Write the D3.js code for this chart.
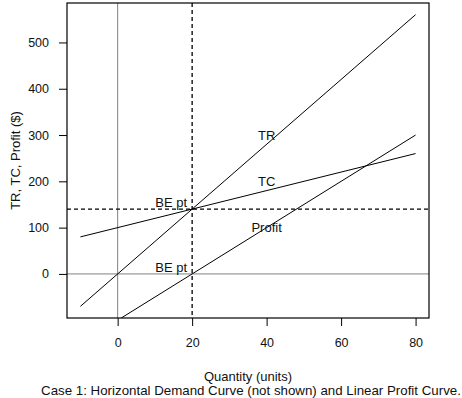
<!DOCTYPE html>
<html>
<head>
<meta charset="utf-8">
<script src="https://cdn.jsdelivr.net/npm/d3@7"></script>
<style>
  body { margin: 0; background: #fff; }
  svg text { font-family: "Liberation Sans", Arial, sans-serif; fill: #111; }
</style>
</head>
<body>
<svg id="chart" width="462" height="398"></svg>
<script>
/* DATA */
const quantity = [-10, 80];
const totalRevenue = [-70, 560];
const totalCost = [80, 260];
const profit = [-150, 300];

const xTicks = [0, 20, 40, 60, 80];
const yTicks = [0, 100, 200, 300, 400, 500];

const breakEven = { q: 20, tr: 140, profit: 0 };

const curveLabels = [
  { text: "TR", q: 40, v: 300 },
  { text: "TC", q: 40, v: 200 },
  { text: "Profit", q: 40, v: 100 }
];

/* LAYOUT */
const margin = { left: 67, top: 3, right: 33, bottom: 80 };
const width = 462, height = 398;
const plotWidth = width - margin.left - margin.right;
const plotHeight = height - margin.top - margin.bottom;

const svg = d3.select("svg#chart");
const plot = svg.append("g")
  .attr("transform", "translate(" + margin.left + "," + margin.top + ")");

/* SCALES (R style: 4% padding on data range) */
function pad(ext) {
  const d = (ext[1] - ext[0]) * 0.04;
  return [ext[0] - d, ext[1] + d];
}

const xScale = d3.scaleLinear()
  .domain(pad(d3.extent(quantity)))
  .range([0, plotWidth]);

const yScale = d3.scaleLinear()
  .domain(pad(d3.extent(totalRevenue)))
  .range([plotHeight, 0]);

/* CLIP */
svg.append("clipPath").attr("id", "clip")
  .append("rect").attr("width", plotWidth).attr("height", plotHeight);

const inner = plot.append("g").attr("clip-path", "url(#clip)");

/* REFERENCE LINES */
inner.append("line")
  .attr("x1", xScale(0)).attr("x2", xScale(0))
  .attr("y1", 0).attr("y2", plotHeight)
  .attr("stroke", "#808080").attr("stroke-width", 1);

inner.append("line")
  .attr("x1", 0).attr("x2", plotWidth)
  .attr("y1", yScale(0)).attr("y2", yScale(0))
  .attr("stroke", "#808080").attr("stroke-width", 1);

inner.append("line")
  .attr("x1", xScale(breakEven.q)).attr("x2", xScale(breakEven.q))
  .attr("y1", 0).attr("y2", plotHeight)
  .attr("stroke", "#000").attr("stroke-width", 1.3)
  .attr("stroke-dasharray", "4,3");

inner.append("line")
  .attr("x1", 0).attr("x2", plotWidth)
  .attr("y1", yScale(breakEven.tr)).attr("y2", yScale(breakEven.tr))
  .attr("stroke", "#000").attr("stroke-width", 1.3)
  .attr("stroke-dasharray", "4,3");

/* CURVES */
const line = d3.line()
  .x(d => xScale(d[0]))
  .y(d => yScale(d[1]));

[totalRevenue, totalCost, profit].forEach(function(series) {
  inner.append("path")
    .datum(d3.zip(quantity, series))
    .attr("d", line)
    .attr("fill", "none")
    .attr("stroke", "#000")
    .attr("stroke-width", 1);
});

/* LABELS */
plot.selectAll("text.curve")
  .data(curveLabels)
  .enter().append("text")
    .attr("class", "curve")
    .attr("x", d => xScale(d.q))
    .attr("y", d => yScale(d.v))
    .attr("dy", "0.35em")
    .attr("text-anchor", "middle")
    .style("font-size", "13px")
    .text(d => d.text);

[breakEven.tr, breakEven.profit].forEach(function(v) {
  plot.append("text")
    .attr("x", xScale(breakEven.q) - 5)
    .attr("y", yScale(v) - 2)
    .attr("text-anchor", "end")
    .style("font-size", "13px")
    .text("BE pt");
});

/* BOX */
plot.append("rect")
  .attr("width", plotWidth).attr("height", plotHeight)
  .attr("fill", "none").attr("stroke", "#000").attr("stroke-width", 1.2);

/* AXES */
const xAxis = d3.axisBottom(xScale).tickValues(xTicks).tickSize(8).tickPadding(12).tickSizeOuter(0);
const yAxis = d3.axisLeft(yScale).tickValues(yTicks).tickSize(8).tickPadding(10).tickSizeOuter(0);

const xGroup = plot.append("g")
  .attr("transform", "translate(0," + plotHeight + ")")
  .call(xAxis);
const yGroup = plot.append("g").call(yAxis);

[xGroup, yGroup].forEach(function(g) {
  g.select(".domain").remove();
  g.selectAll("text").style("font-size", "12.5px")
    .style("font-family", "'Liberation Sans', Arial, sans-serif").attr("fill", "#111");
  g.selectAll("line").attr("stroke", "#000");
});

/* AXIS TITLES */
svg.append("text")
  .attr("x", margin.left + plotWidth / 2)
  .attr("y", 381)
  .attr("text-anchor", "middle")
  .style("font-size", "13px")
  .text("Quantity (units)");

svg.append("text")
  .attr("x", margin.left + plotWidth / 2 + 3)
  .attr("y", 395)
  .attr("text-anchor", "middle")
  .style("font-size", "13.3px")
  .text("Case 1: Horizontal Demand Curve (not shown) and Linear Profit Curve.");

svg.append("text")
  .attr("transform", "translate(15," + (margin.top + plotHeight / 2) + ") rotate(-90)")
  .attr("dy", "0.35em")
  .attr("text-anchor", "middle")
  .style("font-size", "13px")
  .text("TR, TC, Profit ($)");
</script>
</body>
</html>
